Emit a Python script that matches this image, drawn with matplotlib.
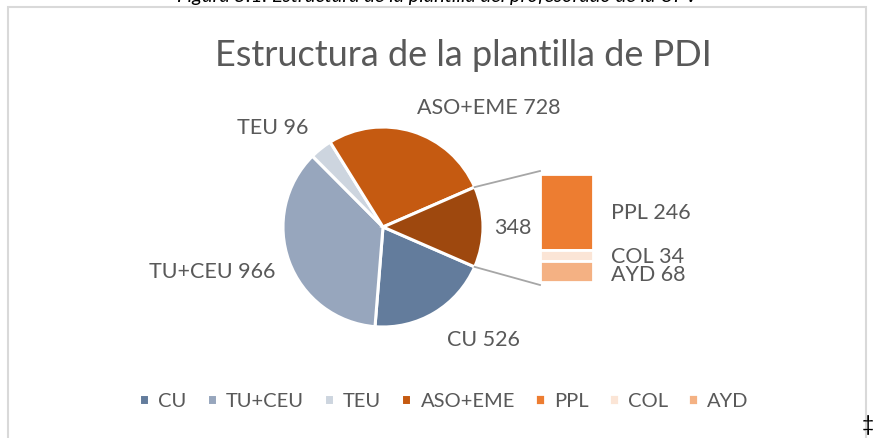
import matplotlib.pyplot as plt
from matplotlib.patches import Rectangle
import numpy as np

plt.rcParams['font.family'] = ['Lato', 'DejaVu Sans']

# pie data (the last slice groups PPL+COL+AYD)
pie_labels = ["CU", "TU+CEU", "TEU", "ASO+EME"]
pie_values = [526, 966, 96, 728]
pie_colors = ["#637C9C", "#97A6BD", "#CDD5DF", "#C55A11"]
other_color = "#9E480E"

# bar of pie data
bar_labels = ["PPL", "COL", "AYD"]
bar_values = [246, 34, 68]
bar_colors = ["#ED7D31", "#FBE5D6", "#F4B183"]

title = "Estructura de la plantilla de PDI"
caption = "Figura 5.1. Estructura de la plantilla del profesorado de la UPV"
txt = "#595959"

W, H = 875, 439
fig = plt.figure(figsize=(W / 100, H / 100), dpi=100)

# border of the chart area
fig.patches.append(Rectangle((8 / W, -0.1), 858 / W, 1.1 - 8 / H, transform=fig.transFigure,
                             fill=False, edgecolor="#D9D9D9", linewidth=1.5))

# pie, in pixel coordinates
ax = fig.add_axes([0, 0, 1, 1])
other = sum(bar_values)
vals = pie_values + [other]
total = sum(vals)
half = other / total * 360 / 2
cx, cy, r = 383, H - 228, 100
wedges, _ = ax.pie(vals, colors=pie_colors + [other_color], startangle=-half,
                   counterclock=False, center=(cx, cy), radius=r,
                   wedgeprops=dict(edgecolor="white", linewidth=2.2))
ax.set_xlim(0, W)
ax.set_ylim(0, H)
ax.set_aspect("auto")
ax.axis("off")

# pie labels
pie_text_pos = [(483, 340), (212, 272), (273, 128), (489, 108)]
for lab, v, (x, y) in zip(pie_labels, pie_values, pie_text_pos):
    ax.text(x, H - y, f"{lab} {v}", ha="center", va="center", fontsize=15.5, color=txt)
ax.text(513, H - 228, str(other), ha="center", va="center", fontsize=15.5, color=txt)

# bar of pie
bx0, bx1, by_top, by_bot = 540, 593, 175, 283
bax = fig.add_axes([bx0 / W, (H - by_bot) / H, (bx1 - bx0) / W, (by_bot - by_top) / H])
bottom = other
bars = []
for lab, v, c in zip(bar_labels, bar_values, bar_colors):
    bottom -= v
    b = bax.bar(0, v, bottom=bottom, width=1, color=c, edgecolor="white", linewidth=2)
    bars.append(b[0])
bax.set_xlim(-0.5, 0.5)
bax.set_ylim(0, other)
bax.axis("off")

bar_text_pos = [(611, 213), (611, 257), (611, 275)]
for lab, v, (x, y) in zip(bar_labels, bar_values, bar_text_pos):
    ax.text(x, H - y, f"{lab} {v}", ha="left", va="center", fontsize=15.5, color=txt)

# connector lines
a = np.deg2rad(half)
ax.plot([cx + r * np.cos(a), bx0], [cy + r * np.sin(a), H - by_top + 3], color="#A6A6A6", lw=1.3)
ax.plot([cx + r * np.cos(a), bx0], [cy - r * np.sin(a), H - by_bot - 3], color="#A6A6A6", lw=1.3)

# title and caption
fig.text(463 / W, 1 - 55 / H, title, ha="center", va="center", fontsize=26, color=txt)
fig.text(437 / W, 1 - 2 / H, caption, ha="center", va="baseline", fontsize=14.5,
         style="italic", color="black")
fig.text(0.999, 1 - 425 / H, "\u2021", ha="right", va="center", fontsize=15, color="black")

# legend
handles = wedges[:4] + bars
labels = pie_labels + bar_labels
fig.legend(handles, labels, loc="center", bbox_to_anchor=(444 / W, 1 - 402 / H), ncol=7,
           frameon=False, fontsize=14.5, labelcolor=txt, handlelength=0.5, handleheight=0.5,
           handletextpad=0.45, columnspacing=1.0)

fig.savefig("out.png", dpi=100)
